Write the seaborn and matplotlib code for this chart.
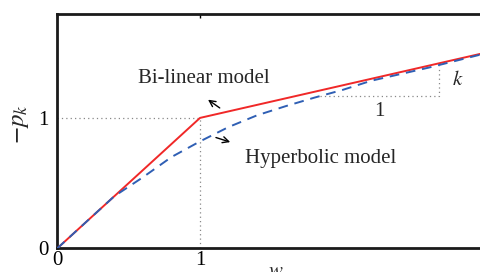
import numpy as np
import pandas as pd
import matplotlib
matplotlib.use("Agg")
import matplotlib.pyplot as plt
import seaborn as sns

# bi-linear model: slope 1 up to w=1, then slope k
bilin_w = [0.0, 1.0, 3.0]
bilin_p = [0.0, 1.0, 1.5]

# hyperbolic model
hyp_w = [0.0, 0.2, 0.4, 0.6, 0.8, 1.0, 1.2, 1.4, 1.6, 1.8, 2.0, 2.2, 2.4, 2.6, 2.8, 3.0]
hyp_p = [0.0, 0.20, 0.40, 0.545, 0.70, 0.82, 0.93, 1.02, 1.09, 1.155, 1.215, 1.285, 1.335, 1.385, 1.44, 1.495]

# slope triangle under the curve
tri_w = [1.84, 2.676, 2.676]
tri_p = [1.167, 1.167, 1.40]

xticks = [0, 1]
yticks = [0, 1]

sns.set_style("white")
plt.rcParams['font.family'] = ['Liberation Serif', 'DejaVu Serif']
plt.rcParams['mathtext.fontset'] = 'stix'

fig = plt.figure(figsize=(4.8, 2.72), dpi=100)
ax = fig.add_axes([0.1194, 0.0871, 0.892, 0.863])

red = '#f02828'
blue = '#2f5fb4'

sns.lineplot(x=bilin_w, y=bilin_p, ax=ax, color=red, lw=1.4, sort=False, zorder=3)
sns.lineplot(x=hyp_w, y=hyp_p, ax=ax, color=blue, lw=1.4, sort=False, zorder=4,
             dashes=False, linestyle=(0, (5, 3.5)))

# guide lines
dot = dict(color='#888888', lw=0.9, ls=(0, (1, 2.5)), zorder=1)
ax.plot([0, 1], [1, 1], **dot)
ax.plot([1, 1], [0, 1], **dot)
ax.plot(tri_w, tri_p, **dot)

fs = 15
ax.text(0.566, 1.27, 'Bi-linear model', fontsize=fs, va='baseline', ha='left')
ax.text(1.315, 0.656, 'Hyperbolic model', fontsize=fs, va='baseline', ha='left')
ax.text(2.764, 1.256, r'$k$', fontsize=fs, va='baseline', ha='left')
ax.text(2.258, 1.012, '1', fontsize=fs, va='baseline', ha='center')

arrow = dict(arrowstyle='->', color='black', lw=1.0, mutation_scale=11)
ax.annotate('', xy=(1.040, 1.152), xytext=(1.154, 1.064), arrowprops=arrow)
ax.annotate('', xy=(1.230, 0.808), xytext=(1.093, 0.856), arrowprops=arrow)

ax.set_xlim(0, 3)
ax.set_ylim(0, 1.8)
ax.set_xticks(xticks)
ax.set_yticks(yticks)
ax.tick_params(direction='in', length=3, width=1, top=True, right=True,
               labelsize=fs, colors='black')
ax.tick_params(axis='x', pad=2)
ax.tick_params(axis='y', pad=6)
for s in ax.spines.values():
    s.set_color('#1a1a1a')
    s.set_linewidth(2.0)

ax.set_xlabel(r'$w$', fontsize=fs)
ax.set_ylabel(r'$-p_k$', fontsize=18)
ax.yaxis.set_label_coords(-0.062, 0.53)
ax.xaxis.set_label_coords(0.51, -0.06)

fig.savefig('out.png', dpi=100)
